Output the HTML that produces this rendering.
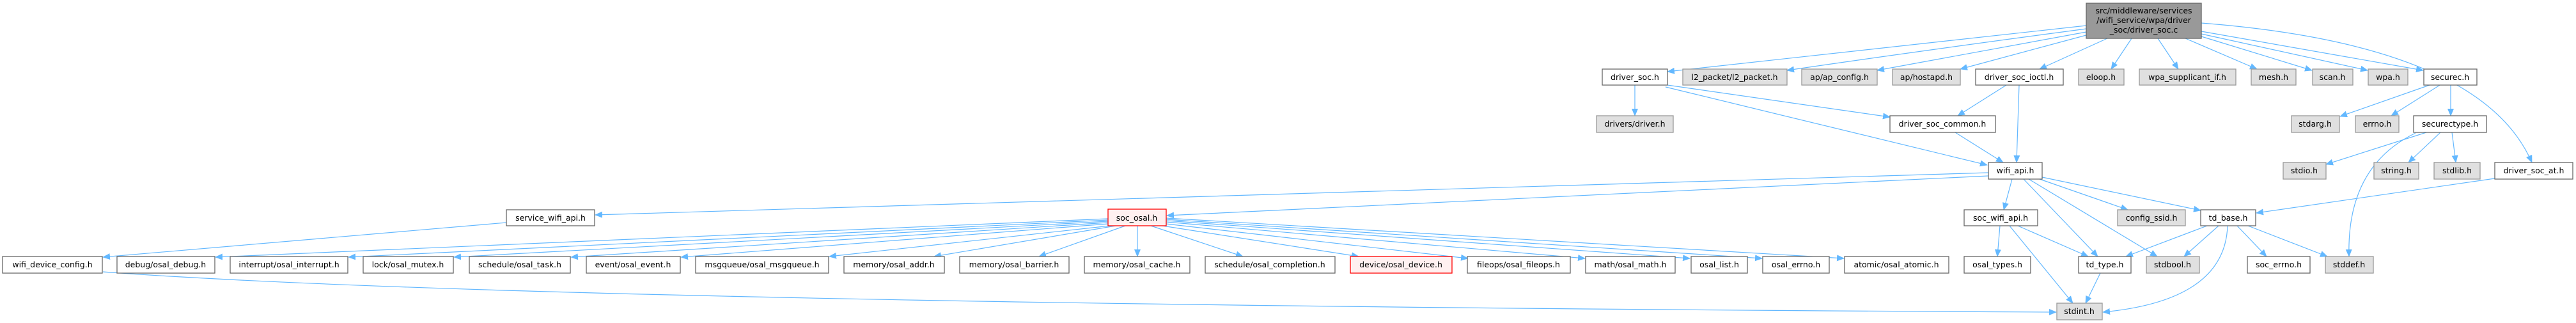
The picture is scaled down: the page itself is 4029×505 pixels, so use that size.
<!DOCTYPE html>
<html><head><meta charset="utf-8"><style>
html,body{margin:0;padding:0;background:#fff;}
svg{display:block;}
text{font-family:"DejaVu Sans","Liberation Sans",sans-serif;font-size:12.5px;fill:#000;text-anchor:middle;}
.w{fill:#fff;stroke:#666;stroke-width:1.3}
.g{fill:#e0e0e0;stroke:#999;stroke-width:1.3}
.r{fill:#fff0f0;stroke:#f00;stroke-width:1.3}
.rt{fill:#999;stroke:#666;stroke-width:1.3}
path,line{stroke:#63b8ff;stroke-width:1.2;fill:none;}
</style></head><body>
<svg width="4029" height="505" viewBox="0 0 4029 505" xmlns="http://www.w3.org/2000/svg">
<defs><marker id="a" markerWidth="12" markerHeight="10" refX="11" refY="5" orient="auto" markerUnits="userSpaceOnUse"><polygon points="0,0 12,5 0,10" fill="#63b8ff"/></marker></defs>
<g marker-end="url(#a)">
<!-- root edges -->
<path d="M3263,40 Q2900,80 2608,112"/>
<path d="M3263,45 Q3000,80 2795,110"/>
<path d="M3263,50 Q3100,80 2936,110"/>
<path d="M3263,55 Q3150,85 3066,108"/>
<path d="M3296,60 L3190,108"/>
<path d="M3334,60 L3302,108"/>
<path d="M3375,60 L3407,108"/>
<path d="M3418,60 L3530,108"/>
<path d="M3443,57 L3616,110"/>
<path d="M3443,53 L3703,110"/>
<path d="M3443,49 L3790,110"/>
<path d="M3443,36 Q3880,70 3960,254"/>
<!-- driver_soc -->
<path d="M2557,133 L2557,181"/>
<path d="M2608,133 L2956,183"/>
<path d="M2605,136 L3108,258"/>
<!-- ioctl -->
<path d="M3138,133 L3062,181"/>
<path d="M3158,133 L3154,254"/>
<path d="M3058,207 L3133,254"/>
<!-- securec -->
<path d="M3800,133 L3660,182"/>
<path d="M3816,133 L3740,181"/>
<path d="M3833,133 L3833,181"/>
<path d="M3795,207 L3638,257"/>
<path d="M3817,207 L3767,254"/>
<path d="M3835,207 L3841,254"/>
<path d="M3778,208 Q3670,260 3674,401"/>
<path d="M3902,279 L3529,333"/>
<!-- wifi_api -->
<path d="M3110,270 L931,336"/>
<path d="M3110,275 L1825,337"/>
<path d="M3147,280 L3134,328"/>
<path d="M3165,280 L3281,401"/>
<path d="M3173,280 L3374,401"/>
<path d="M3190,280 L3328,328"/>
<path d="M3194,277 L3442,329"/>
<!-- soc_wifi_api -->
<path d="M3128,353 L3124,401"/>
<path d="M3156,353 L3266,401"/>
<path d="M3143,353 L3242,474"/>
<!-- td_base -->
<path d="M3452,353 L3325,401"/>
<path d="M3470,353 L3416,401"/>
<path d="M3484,353 Q3480,470 3289,488"/>
<path d="M3499,353 L3545,401"/>
<path d="M3516,353 L3640,401"/>
<path d="M3285,427 L3262,474"/>
<!-- service_wifi_api -->
<path d="M792,348 L161,402"/>
<path d="M161,425 C700,465 2000,482 3216,488"/>
<!-- soc_osal fan -->
<path d="M1733,342 L337,402"/>
<path d="M1733,344 L545,402"/>
<path d="M1733,346 L710,402"/>
<path d="M1733,348 L893,402"/>
<path d="M1733,350 L1065,402"/>
<path d="M1736,353 L1297,401"/>
<path d="M1745,353 L1461,401"/>
<path d="M1760,353 L1625,401"/>
<path d="M1779,353 L1779,401"/>
<path d="M1800,353 L1944,401"/>
<path d="M1818,353 L2125,401"/>
<path d="M1824,350 L2296,404"/>
<path d="M1824,347 L2479,404"/>
<path d="M1824,345 L2643,404"/>
<path d="M1824,343 L2756,404"/>
<path d="M1824,341 L2884,404"/>
</g>
<!-- nodes -->
<rect class="rt" x="3263" y="5" width="180" height="55"/>
<text x="3353" y="21">src/middleware/services</text>
<text x="3353" y="36">/wifi_service/wpa/driver</text>
<text x="3353" y="51">_soc/driver_soc.c</text>

<rect class="w" x="2506" y="108" width="102" height="25"/><text x="2557" y="125">driver_soc.h</text>
<rect class="g" x="2632" y="108" width="163" height="25"/><text x="2713" y="125">l2_packet/l2_packet.h</text>
<rect class="g" x="2818" y="108" width="118" height="25"/><text x="2877" y="125">ap/ap_config.h</text>
<rect class="g" x="2960" y="108" width="106" height="25"/><text x="3013" y="125">ap/hostapd.h</text>
<rect class="w" x="3090" y="108" width="137" height="25"/><text x="3158" y="125">driver_soc_ioctl.h</text>
<rect class="g" x="3251" y="108" width="71" height="25"/><text x="3286" y="125">eloop.h</text>
<rect class="g" x="3346" y="108" width="151" height="25"/><text x="3421" y="125">wpa_supplicant_if.h</text>
<rect class="g" x="3521" y="108" width="70" height="25"/><text x="3556" y="125">mesh.h</text>
<rect class="g" x="3617" y="108" width="63" height="25"/><text x="3648" y="125">scan.h</text>
<rect class="g" x="3704" y="108" width="62" height="25"/><text x="3735" y="125">wpa.h</text>
<rect class="w" x="3791" y="108" width="83" height="25"/><text x="3832" y="125">securec.h</text>

<rect class="g" x="2497" y="181" width="120" height="26"/><text x="2557" y="198">drivers/driver.h</text>
<rect class="w" x="2956" y="181" width="165" height="26"/><text x="3038" y="198">driver_soc_common.h</text>
<rect class="g" x="3584" y="181" width="75" height="26"/><text x="3621" y="198">stdarg.h</text>
<rect class="g" x="3684" y="181" width="68" height="26"/><text x="3718" y="198">errno.h</text>
<rect class="w" x="3775" y="181" width="114" height="26"/><text x="3832" y="198">securectype.h</text>

<rect class="w" x="3110" y="254" width="84" height="26"/><text x="3152" y="271">wifi_api.h</text>
<rect class="g" x="3571" y="254" width="67" height="26"/><text x="3604" y="271">stdio.h</text>
<rect class="g" x="3713" y="254" width="70" height="26"/><text x="3748" y="271">string.h</text>
<rect class="g" x="3807" y="254" width="72" height="26"/><text x="3843" y="271">stdlib.h</text>
<rect class="w" x="3902" y="254" width="122" height="26"/><text x="3963" y="271">driver_soc_at.h</text>

<rect class="w" x="792" y="328" width="138" height="25"/><text x="861" y="345">service_wifi_api.h</text>
<rect class="r" x="1733" y="327" width="91" height="26"/><text x="1778" y="345">soc_osal.h</text>
<rect class="w" x="3072" y="328" width="115" height="25"/><text x="3129" y="345">soc_wifi_api.h</text>
<rect class="g" x="3312" y="328" width="106" height="25"/><text x="3365" y="345">config_ssid.h</text>
<rect class="w" x="3442" y="328" width="86" height="25"/><text x="3485" y="345">td_base.h</text>

<rect class="w" x="4" y="401" width="156" height="26"/><text x="82" y="418">wifi_device_config.h</text>
<rect class="w" x="183" y="401" width="153" height="26"/><text x="259" y="418">debug/osal_debug.h</text>
<rect class="w" x="360" y="401" width="184" height="26"/><text x="452" y="418">interrupt/osal_interrupt.h</text>
<rect class="w" x="568" y="401" width="141" height="26"/><text x="638" y="418">lock/osal_mutex.h</text>
<rect class="w" x="734" y="401" width="158" height="26"/><text x="813" y="418">schedule/osal_task.h</text>
<rect class="w" x="917" y="401" width="147" height="26"/><text x="990" y="418">event/osal_event.h</text>
<rect class="w" x="1088" y="401" width="208" height="26"/><text x="1192" y="418">msgqueue/osal_msgqueue.h</text>
<rect class="w" x="1320" y="401" width="157" height="26"/><text x="1398" y="418">memory/osal_addr.h</text>
<rect class="w" x="1501" y="401" width="171" height="26"/><text x="1586" y="418">memory/osal_barrier.h</text>
<rect class="w" x="1696" y="401" width="165" height="26"/><text x="1778" y="418">memory/osal_cache.h</text>
<rect class="w" x="1885" y="401" width="203" height="26"/><text x="1986" y="418">schedule/osal_completion.h</text>
<rect class="r" x="2112" y="401" width="159" height="26"/><text x="2191" y="418">device/osal_device.h</text>
<rect class="w" x="2295" y="401" width="161" height="26"/><text x="2375" y="418">fileops/osal_fileops.h</text>
<rect class="w" x="2480" y="401" width="140" height="26"/><text x="2550" y="418">math/osal_math.h</text>
<rect class="w" x="2645" y="401" width="88" height="26"/><text x="2689" y="418">osal_list.h</text>
<rect class="w" x="2757" y="401" width="104" height="26"/><text x="2809" y="418">osal_errno.h</text>
<rect class="w" x="2885" y="401" width="163" height="26"/><text x="2966" y="418">atomic/osal_atomic.h</text>
<rect class="w" x="3072" y="401" width="104" height="26"/><text x="3124" y="418">osal_types.h</text>
<rect class="w" x="3251" y="401" width="82" height="26"/><text x="3292" y="418">td_type.h</text>
<rect class="g" x="3357" y="401" width="83" height="26"/><text x="3398" y="418">stdbool.h</text>
<rect class="w" x="3515" y="401" width="98" height="26"/><text x="3564" y="418">soc_errno.h</text>
<rect class="g" x="3637" y="401" width="75" height="26"/><text x="3674" y="418">stddef.h</text>

<rect class="g" x="3217" y="474" width="71" height="26"/><text x="3252" y="491">stdint.h</text>
</svg>
</body></html>
